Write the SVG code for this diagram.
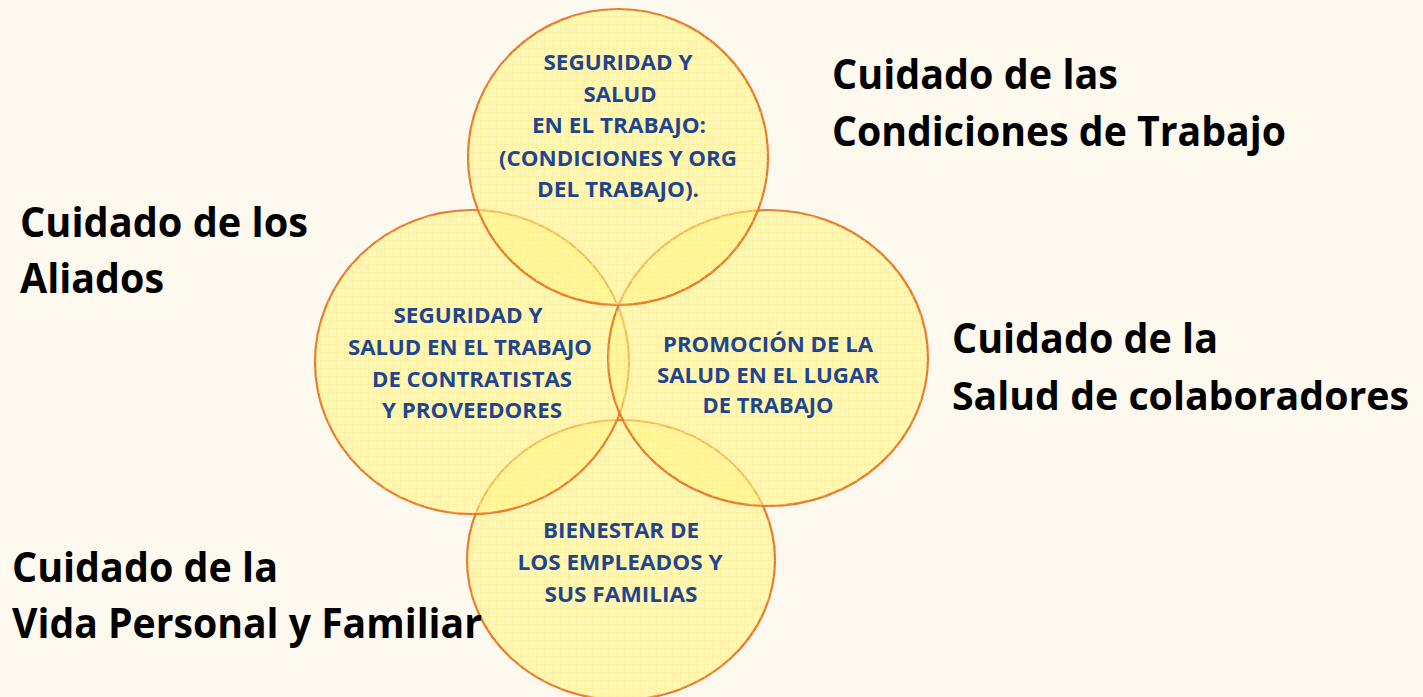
<svg xmlns="http://www.w3.org/2000/svg" width="1423" height="697" viewBox="0 0 1423 697">
<defs>
<pattern id="grid" width="8" height="8" patternUnits="userSpaceOnUse">
<path d="M0 0.5H8M0.5 0V8" fill="none" stroke="#FFEE70" stroke-width="1" stroke-opacity="0.3"/>
</pattern>
<style>
.c{fill:#FFF68A;fill-opacity:0.55;stroke:#E97A2E;stroke-width:2.2}
.g{fill:url(#grid);stroke:none}
.t{font-family:"Open Sans","Noto Sans","Liberation Sans",sans-serif;font-weight:700;font-size:22px;fill:#1F4590;text-anchor:middle}
.l{font-family:"Open Sans","Noto Sans","Liberation Sans",sans-serif;font-weight:700;font-size:42px;fill:#000}
.n{font-size:39px}
</style>
</defs>
<rect x="0" y="0" width="1423" height="697" fill="#FEF9EF"/>
<g id="connectors"></g>
<g id="node-bienestar">
<ellipse class="c" cx="621" cy="560" rx="154" ry="140"/>
<ellipse class="g" cx="621" cy="560" rx="154" ry="140"/>
<text class="t"><tspan x="621" y="538" textLength="156" lengthAdjust="spacingAndGlyphs">BIENESTAR DE</tspan><tspan x="620" y="570" textLength="205" lengthAdjust="spacingAndGlyphs">LOS EMPLEADOS Y</tspan><tspan x="621" y="602" textLength="153" lengthAdjust="spacingAndGlyphs">SUS FAMILIAS</tspan></text>
</g>
<g id="node-contratistas">
<ellipse class="c" cx="472" cy="362" rx="157" ry="152"/>
<ellipse class="g" cx="472" cy="362" rx="157" ry="152"/>
<text class="t"><tspan x="468" y="323" textLength="149" lengthAdjust="spacingAndGlyphs">SEGURIDAD Y</tspan><tspan x="470" y="355" textLength="244" lengthAdjust="spacingAndGlyphs">SALUD EN EL TRABAJO</tspan><tspan x="472" y="387" textLength="200" lengthAdjust="spacingAndGlyphs">DE CONTRATISTAS</tspan><tspan x="472" y="418" textLength="180" lengthAdjust="spacingAndGlyphs">Y PROVEEDORES</tspan></text>
</g>
<g id="node-promocion">
<ellipse class="c" cx="768" cy="358" rx="160" ry="148"/>
<ellipse class="g" cx="768" cy="358" rx="160" ry="148"/>
<text class="t"><tspan x="768" y="352" textLength="210" lengthAdjust="spacingAndGlyphs">PROMOCIÓN DE LA</tspan><tspan x="768" y="383" textLength="222" lengthAdjust="spacingAndGlyphs">SALUD EN EL LUGAR</tspan><tspan x="768" y="413" textLength="131" lengthAdjust="spacingAndGlyphs">DE TRABAJO</tspan></text>
</g>
<g id="node-condiciones">
<ellipse class="c" cx="618" cy="157" rx="150" ry="148"/>
<ellipse class="g" cx="618" cy="157" rx="150" ry="148"/>
<text class="t"><tspan x="618" y="70" textLength="149" lengthAdjust="spacingAndGlyphs">SEGURIDAD Y</tspan><tspan x="620" y="102" textLength="73" lengthAdjust="spacingAndGlyphs">SALUD</tspan><tspan x="619" y="133" textLength="174" lengthAdjust="spacingAndGlyphs">EN EL TRABAJO:</tspan><tspan x="618" y="166" textLength="238" lengthAdjust="spacingAndGlyphs">(CONDICIONES Y ORG</tspan><tspan x="618" y="197" textLength="162" lengthAdjust="spacingAndGlyphs">DEL TRABAJO).</tspan></text>
</g>
<g id="label-condiciones">
<text class="l"><tspan x="832" y="89" textLength="286" lengthAdjust="spacingAndGlyphs">Cuidado de las</tspan><tspan x="832" y="146" textLength="454" lengthAdjust="spacingAndGlyphs">Condiciones de Trabajo</tspan></text>
</g>
<g id="label-aliados">
<text class="l"><tspan x="20" y="237" textLength="288" lengthAdjust="spacingAndGlyphs">Cuidado de los</tspan><tspan x="20" y="293" textLength="144" lengthAdjust="spacingAndGlyphs">Aliados</tspan></text>
</g>
<g id="label-salud">
<text class="l"><tspan x="952" y="353" textLength="266" lengthAdjust="spacingAndGlyphs">Cuidado de la</tspan></text>
<text class="l n"><tspan x="952" y="410" textLength="457" lengthAdjust="spacingAndGlyphs">Salud de colaboradores</tspan></text>
</g>
<g id="label-vida">
<text class="l"><tspan x="12" y="582" textLength="266" lengthAdjust="spacingAndGlyphs">Cuidado de la</tspan><tspan x="12" y="638" textLength="470" lengthAdjust="spacingAndGlyphs">Vida Personal y Familiar</tspan></text>
</g>
</svg>
